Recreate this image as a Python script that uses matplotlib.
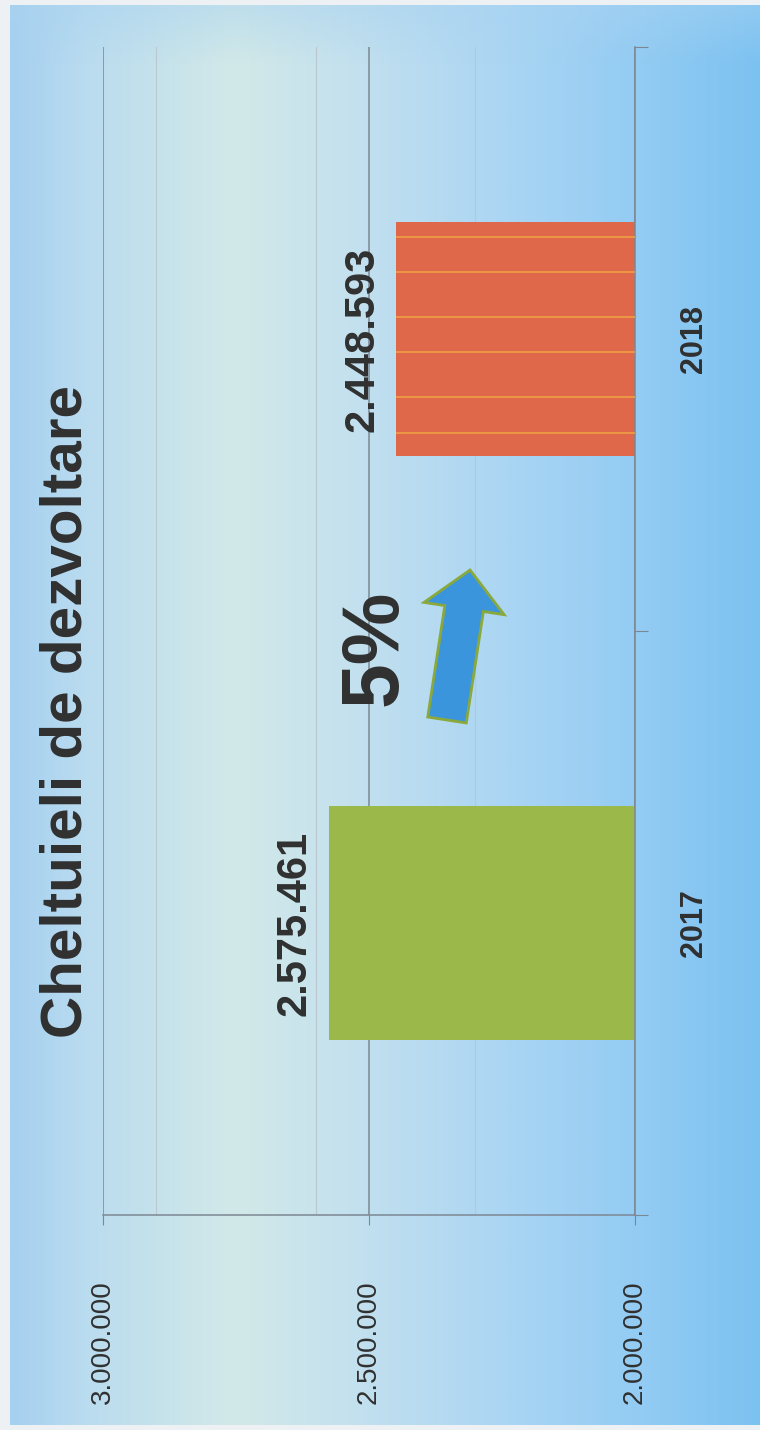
import matplotlib.pyplot as plt
import numpy as np
from matplotlib.colors import LinearSegmentedColormap, to_rgb
from matplotlib.patches import FancyArrow
from matplotlib.ticker import FixedLocator

# data
years = ['2017', '2018']
spending = [2575461, 2448593]
bar_colors = ['#9bb94a', '#e0684a']
value_ticks = [2000000, 2500000, 3000000]
minor_ticks = [2300000, 2600000, 2900000]
change_label = '5%'
title = 'Cheltuieli de dezvoltare'


def fmt(v):
    return f"{v:,}".replace(',', '.')


plt.rcParams['font.family'] = ['Liberation Sans', 'DejaVu Sans']
text_color = '#303030'
grid_color = '#7d8793'

fig = plt.figure(figsize=(7.6, 14.3), dpi=100, facecolor='#edf1f4')

# background gradient (pale in the middle-left, blue on the right)
bg = fig.add_axes([10 / 760, 5 / 1430, 750 / 760, 1420 / 1430], zorder=0)
stops = [(0, '#a6d0f0'), (0.1, '#badcef'), (0.3, '#d2e9e8'), (0.45, '#c4e1ee'),
         (0.65, '#acd6f3'), (0.85, '#92cbf3'), (1, '#7cc2f1')]
cmap = LinearSegmentedColormap.from_list('bg', stops)
bg.imshow(np.tile(np.linspace(0, 1, 400), (300, 1)), cmap=cmap, aspect='auto',
          extent=[0, 1, 0, 1], interpolation='bilinear')
# slightly bluer band along the top edge
top = np.zeros((300, 400, 4))
top[..., :3] = to_rgb('#a9d3f1')
top[..., 3] = (np.clip((np.linspace(1, 0, 300) - 0.96) / 0.04, 0, 1) * 0.45)[:, None]
bg.imshow(top, aspect='auto', extent=[0, 1, 0, 1], interpolation='bilinear')
bg.set_xlim(0, 1)
bg.set_ylim(0, 1)
bg.axis('off')

# main chart (rotated bar chart)
ax = fig.add_axes([103 / 760, 1 - 1215 / 1430, 532 / 760, 1168 / 1430], zorder=1)
ax.set_facecolor('none')
ypos = np.arange(len(years))
ax.barh(ypos, spending, height=0.4, color=bar_colors, zorder=2)

# thin stripes on the 2018 bar
for off in [0.175, 0.115, 0.038, -0.022, -0.099, -0.161]:
    ax.hlines(ypos[1] + off, value_ticks[0], spending[1], color='#f0a544', lw=1.1, zorder=3)

ax.set_xlim(value_ticks[-1], value_ticks[0])
ax.set_ylim(-0.5, len(years) - 0.5)

ax.set_xticks(value_ticks)
ax.set_xticklabels([fmt(v) for v in value_ticks], rotation=90, fontsize=20, color=text_color)
ax.xaxis.set_minor_locator(FixedLocator(minor_ticks))
ax.tick_params(axis='x', which='major', length=7, color=grid_color, pad=40)
ax.tick_params(axis='x', which='minor', length=0)
ax.grid(axis='x', which='major', color=grid_color, lw=1.1)
ax.grid(axis='x', which='minor', color='#bcc6ce', lw=0.8)
ax.set_axisbelow(True)

ax.yaxis.tick_right()
ax.set_yticks([-0.5, 0.5, 1.5])
ax.set_yticklabels([])
ax.set_yticks(ypos, minor=True)
ax.set_yticklabels(years, minor=True, rotation=90, fontsize=22, fontweight='bold',
                   color=text_color, va='center', ha='left')
ax.tick_params(axis='y', which='major', length=9, color=grid_color)
ax.tick_params(axis='y', which='minor', length=0, pad=32)

for s in ['top', 'left']:
    ax.spines[s].set_visible(False)
for s in ['bottom', 'right']:
    ax.spines[s].set_color(grid_color)
    ax.spines[s].set_linewidth(1.1)

for i, v in enumerate(spending):
    ax.annotate(fmt(v), (v, ypos[i]), xytext=(-10, 0), textcoords='offset points',
                rotation=90, ha='right', va='center', fontsize=30, fontweight='bold',
                color=text_color)

# title and growth marker
fig.text(67 / 760, 1 - 712 / 1430, title, rotation=90, ha='center', va='center',
         fontsize=42, fontweight='bold', color=text_color)
fig.text(376 / 760, 1 - 648 / 1430, change_label, rotation=90, ha='center', va='center',
         fontsize=58, fontweight='bold', color=text_color)
arrow = FancyArrow(4.47, 7.10, 0.23, 1.50, width=0.39, head_width=0.81, head_length=0.39,
                   length_includes_head=True, transform=fig.dpi_scale_trans,
                   facecolor='#3b95dd', edgecolor='#8aa93c', lw=2, zorder=5)
fig.add_artist(arrow)

fig.savefig('out.png', dpi=100)
